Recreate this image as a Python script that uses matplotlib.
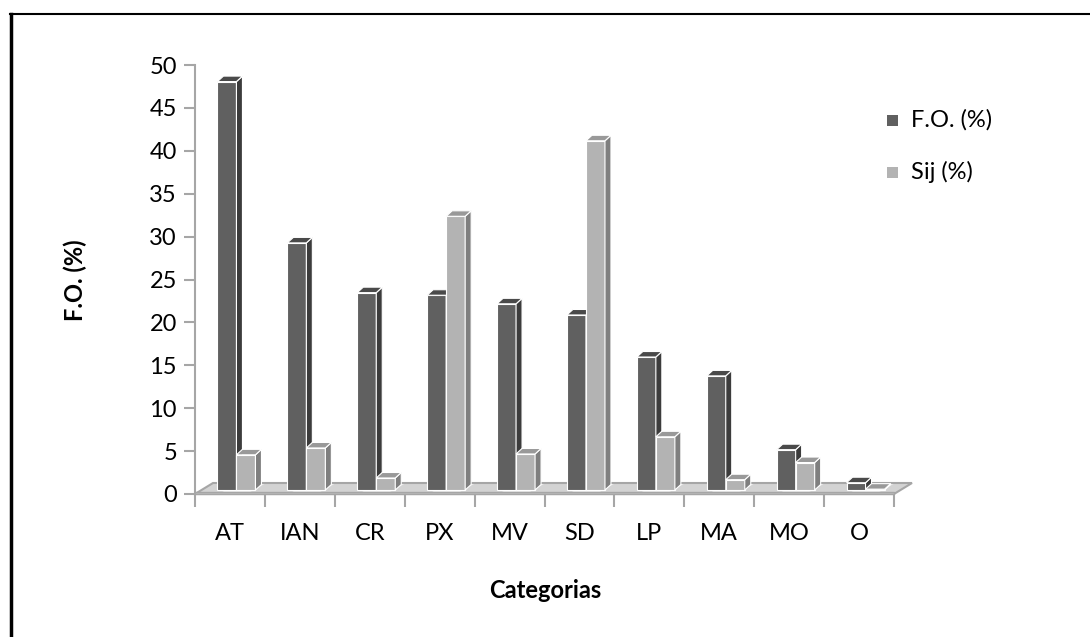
import matplotlib
matplotlib.use("Agg")
import matplotlib.pyplot as plt
from matplotlib.patches import Polygon
from matplotlib.lines import Line2D
import numpy as np

categories = ["AT", "IAN", "CR", "PX", "MV", "SD", "LP", "MA", "MO", "O"]
fo_values = [47.6, 28.8, 23.0, 22.7, 21.7, 20.4, 15.5, 13.3, 4.7, 0.85]
sij_values = [4.1, 4.9, 1.4, 31.9, 4.2, 40.7, 6.2, 1.2, 3.2, 0.1]
series_names = ["F.O. (%)", "Sij (%)"]
y_ticks = [0, 5, 10, 15, 20, 25, 30, 35, 40, 45, 50]

FONT = ["Lato", "DejaVu Sans"]
plt.rcParams['font.family'] = FONT
FS = 17

W, H = 1090, 637
fig = plt.figure(figsize=(W / 100, H / 100), dpi=100)
fig.patch.set_facecolor("white")

left, right_px, y0_px, y50_px = 195, 894, 494, 65
ax = fig.add_axes([left / W, (H - y0_px) / H, (right_px - left) / W, (y0_px - y50_px) / H])
ax.set_xlim(0, len(categories))
ax.set_ylim(0, 50)
ax.patch.set_alpha(0)
for s in ["top", "right", "bottom"]:
    ax.spines[s].set_visible(False)
axis_gray = "#a6a6a6"
ax.spines["left"].set_color(axis_gray)
ax.spines["left"].set_linewidth(1.5)
ax.set_yticks(y_ticks)
ax.set_yticklabels([str(v) for v in y_ticks])
ax.tick_params(axis="y", length=8, width=1.5, color=axis_gray, labelsize=FS, pad=5, labelcolor="black")
ax.set_xticks(np.arange(len(categories) + 1))
ax.set_xticklabels([])
ax.tick_params(axis="x", which="major", length=9, width=1.5, color=axis_gray)
ax.set_xticks(np.arange(len(categories)) + 0.5, minor=True)
ax.set_xticklabels(categories, minor=True)
ax.tick_params(axis="x", which="minor", length=0, labelsize=FS, pad=21, labelcolor="black")

fig.canvas.draw()
T = ax.transData


def disp(x, y, dx=0.0, dy=0.0):
    p = T.transform((x, y))
    return (p[0] + dx, p[1] + dy)


def add_poly(pts, fc, ec="white", lw=0.8, z=3):
    poly = Polygon(pts, closed=True, facecolor=fc, edgecolor=ec, linewidth=lw,
                   transform=None, zorder=z, clip_on=False)
    fig.add_artist(poly)


# floor
n = len(categories)
FDX, FDY = 18, 11
add_poly([disp(0, 0), disp(n, 0), disp(n, 0, FDX, FDY), disp(0, 0, FDX, FDY)],
         "#d3d3d3", ec=axis_gray, lw=1.5, z=2)
for i in range(n):
    xa, xb = i + 0.35, i + 0.75
    add_poly([disp(xa, 0, 1, 1), disp(xb, 0, 1, 1), disp(xb, 0, FDX - 1, FDY - 1), disp(xa, 0, FDX - 1, FDY - 1)],
             "#ececec", ec="none", lw=0, z=2.1)
add_poly([disp(0, 0), disp(n, 0), disp(n, 0, 0, 2.5), disp(0, 0, 0, 2.5)], "#bdbdbd", ec=axis_gray, lw=1.0, z=2.2)

# bars
bw = 0.272
BFX, BFY = 6.5, 4
BDX, BDY = 6, 5.5
colors = [("#606060", "#3c3c3c", "#4a4a4a"), ("#b3b3b3", "#7f7f7f", "#999999")]
z = 4
for i in range(n):
    c = i + 0.5
    for k, vals in enumerate([fo_values, sij_values]):
        h = vals[i]
        x0 = c - bw if k == 0 else c
        x1 = x0 + bw
        front, side, top = colors[k]
        add_poly([disp(x0, 0, BFX, BFY), disp(x1, 0, BFX, BFY), disp(x1, h, BFX, BFY), disp(x0, h, BFX, BFY)],
                 front, z=z)
        add_poly([disp(x1, 0, BFX, BFY), disp(x1, 0, BFX + BDX, BFY + BDY),
                  disp(x1, h, BFX + BDX, BFY + BDY), disp(x1, h, BFX, BFY)], side, z=z)
        add_poly([disp(x0, h, BFX, BFY), disp(x1, h, BFX, BFY),
                  disp(x1, h, BFX + BDX, BFY + BDY), disp(x0, h, BFX + BDX, BFY + BDY)], top, z=z)
        z += 0.01

# axis titles
fig.text(75 / W, 1 - 280 / H, "F.O. (%)", rotation=90, ha="center", va="center",
         fontsize=FS, fontweight="bold", family=FONT)
fig.text(545 / W, 1 - 590 / H, "Categorias", ha="center", va="center",
         fontsize=FS, fontweight="bold", family=FONT)

# legend
leg_colors = ["#606060", "#b3b3b3"]
for k, name in enumerate(series_names):
    yc = 120 + 52 * k
    fig.add_artist(Polygon([(887, H - yc - 5.5), (898, H - yc - 5.5), (898, H - yc + 5.5), (887, H - yc + 5.5)],
                           closed=True, facecolor=leg_colors[k], edgecolor="none", transform=None))
    fig.text(911 / W, 1 - yc / H, name, ha="left", va="center", fontsize=FS, family=FONT)

# chart border (left and top visible)
fig.add_artist(Line2D([11 / W, 11 / W], [0, 1 - 14 / H], color="black", linewidth=2.5,
                      transform=fig.transFigure))
fig.add_artist(Line2D([10 / W, 1], [1 - 14 / H, 1 - 14 / H], color="black", linewidth=1.5,
                      transform=fig.transFigure))

fig.savefig("out.png", dpi=100)
